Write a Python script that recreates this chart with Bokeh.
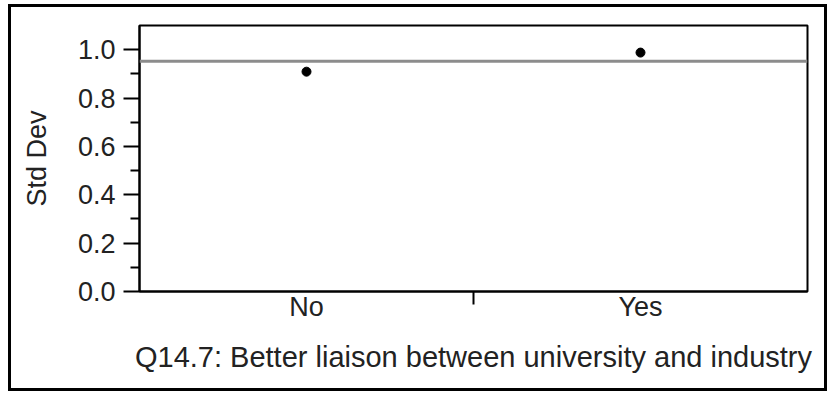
from bokeh.plotting import figure
from bokeh.models import (FactorRange, Range1d, LinearAxis, FixedTicker,
                          Span, ColumnDataSource, PrintfTickFormatter)
from bokeh.embed import file_html
from bokeh.resources import INLINE

# ---- data ----
categories = ["No", "Yes"]
std_dev = [0.909, 0.988]
overall_std_dev = 0.952
x_title = "Q14.7: Better liaison between university and industry"
y_title = "Std Dev"
y_ticks = [0.0, 0.2, 0.4, 0.6, 0.8, 1.0]

FONT = "Liberation Sans"
TXT = "#222222"

src = ColumnDataSource(dict(cat=categories, sd=std_dev))

p = figure(width=819, height=387, output_backend="svg", toolbar_location=None,
           x_range=FactorRange(*categories, range_padding=0, factor_padding=0),
           y_range=Range1d(0, 1.1), x_axis_type=None, y_axis_type=None,
           min_border_left=131, min_border_right=20, min_border_top=21,
           min_border_bottom=100)
p.styles = {"margin-left": "8px", "margin-top": "4px",
            "outline": "3px solid black", "outline-offset": "-3px"}
p.border_fill_color = None
p.background_fill_color = "white"
p.grid.visible = False
p.outline_line_color = "black"
p.outline_line_width = 2
p.outline_line_alpha = 1

# y axis
yax = LinearAxis(ticker=FixedTicker(ticks=y_ticks,
                                    minor_ticks=[t + 0.1 for t in y_ticks[:-1]]),
                 formatter=PrintfTickFormatter(format="%.1f"))
yax.axis_label = y_title
yax.axis_label_text_font = FONT
yax.axis_label_text_font_size = "27px"
yax.axis_label_text_font_style = "normal"
yax.axis_label_text_color = TXT
yax.axis_label_standoff = 23
yax.major_label_text_font = FONT
yax.major_label_text_font_size = "27px"
yax.major_label_text_color = TXT
yax.major_label_standoff = 8
yax.major_tick_in = 0
yax.major_tick_out = 16
yax.minor_tick_in = 0
yax.minor_tick_out = 9
yax.axis_line_width = 2
yax.major_tick_line_width = 2
yax.minor_tick_line_width = 2
p.add_layout(yax, "left")

# x axis: labels at category centres, tick mark at boundaries
n = len(categories)
centres = [i + 0.5 for i in range(n)]
bounds = [i for i in range(1, n)]
xax = LinearAxis(ticker=FixedTicker(ticks=centres, minor_ticks=bounds))
xax.major_label_overrides = {c: lab for c, lab in zip(centres, categories)}
xax.axis_label = x_title
xax.axis_label_text_font = FONT
xax.axis_label_text_font_size = "29px"
xax.axis_label_text_font_style = "normal"
xax.axis_label_text_color = TXT
xax.axis_label_standoff = 16
xax.major_label_text_font = FONT
xax.major_label_text_font_size = "27px"
xax.major_label_text_color = TXT
xax.major_label_standoff = -13
xax.major_tick_in = 0
xax.major_tick_out = 0
xax.major_tick_line_color = None
xax.minor_tick_in = 0
xax.minor_tick_out = 13
xax.minor_tick_line_width = 2
xax.axis_line_width = 2
p.add_layout(xax, "below")

p.add_layout(Span(location=overall_std_dev, dimension="width",
                  line_color="#8c8c8c", line_width=3))
p.scatter(x="cat", y="sd", source=src, size=9, color="black")

open("out.html", "w").write(file_html(p, INLINE))
